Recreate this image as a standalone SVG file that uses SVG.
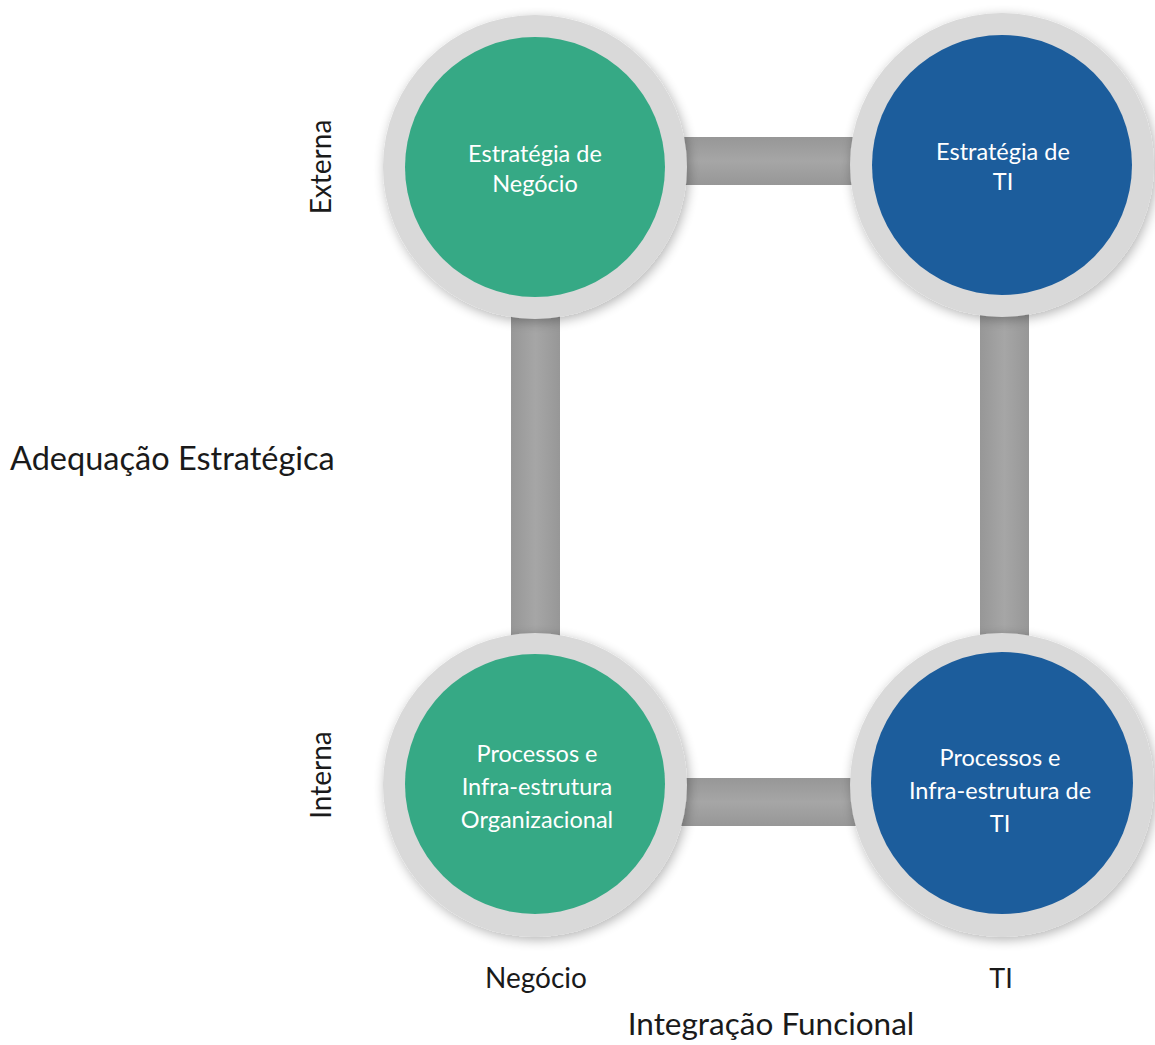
<svg xmlns="http://www.w3.org/2000/svg" width="1155" height="1045" viewBox="0 0 1155 1045">
<style>
.lbl{font-family:"Lato","Open Sans","Liberation Sans",sans-serif;fill:#1a1a1a}
.in{font-family:"Lato","Open Sans","Liberation Sans",sans-serif;fill:#fff;font-size:23.5px;text-anchor:middle}
.ring{fill:#d9d9d9;filter:url(#sh)}
.g{fill:#36a985}
.b{fill:#1c5d9c}
</style>
<defs>
<filter id="sh" x="-20%" y="-20%" width="140%" height="140%">
<feGaussianBlur in="SourceAlpha" stdDeviation="6"/>
<feOffset dx="2" dy="3"/>
<feComponentTransfer><feFuncA type="linear" slope="0.3"/></feComponentTransfer>
<feMerge><feMergeNode/><feMergeNode in="SourceGraphic"/></feMerge>
</filter>
<linearGradient id="hb" x1="0" y1="0" x2="0" y2="1">
<stop offset="0" stop-color="#979797"/><stop offset="0.5" stop-color="#a6a6a6"/><stop offset="1" stop-color="#979797"/>
</linearGradient>
<linearGradient id="vb" x1="0" y1="0" x2="1" y2="0">
<stop offset="0" stop-color="#979797"/><stop offset="0.5" stop-color="#a6a6a6"/><stop offset="1" stop-color="#979797"/>
</linearGradient>
</defs>
<rect width="1155" height="1045" fill="#fff"/>
<g id="connectors">
<rect x="670" y="137" width="200" height="48" fill="url(#hb)"/>
<rect x="511" y="300" width="49" height="360" fill="url(#vb)"/>
<rect x="980" y="300" width="49" height="360" fill="url(#vb)"/>
<rect x="670" y="778" width="200" height="48" fill="url(#hb)"/>
</g>
<g id="n1">
<circle class="ring" cx="535" cy="167" r="152"/>
<circle class="g" cx="535" cy="167" r="130"/>
<text class="in" x="535" y="162">Estratégia de</text>
<text class="in" x="535" y="192">Negócio</text>
</g>
<g id="n2">
<circle class="ring" cx="1002" cy="165" r="152"/>
<circle class="b" cx="1002" cy="165" r="130"/>
<text class="in" x="1003" y="160">Estratégia de</text>
<text class="in" x="1003" y="190">TI</text>
</g>
<g id="n3">
<circle class="ring" cx="535" cy="785" r="152"/>
<circle class="g" cx="535" cy="784" r="130"/>
<text class="in" x="537" y="762">Processos e</text>
<text class="in" x="537" y="795">Infra-estrutura</text>
<text class="in" x="537" y="828">Organizacional</text>
</g>
<g id="n4">
<circle class="ring" cx="1002" cy="785" r="152"/>
<circle class="b" cx="1002" cy="783" r="131"/>
<text class="in" x="1000" y="766">Processos e</text>
<text class="in" x="1000" y="799">Infra-estrutura de</text>
<text class="in" x="1000" y="832">TI</text>
</g>
<g id="labels">
<text class="lbl" font-size="28" text-anchor="middle" transform="translate(331,167) rotate(-90)">Externa</text>
<text class="lbl" font-size="28" text-anchor="middle" transform="translate(331,775) rotate(-90)">Interna</text>
<text class="lbl" font-size="32.5" x="10" y="470">Adequação Estratégica</text>
<text class="lbl" font-size="28" x="536" y="988" text-anchor="middle">Negócio</text>
<text class="lbl" font-size="27" x="1001" y="988" text-anchor="middle">TI</text>
<text class="lbl" font-size="31.5" x="771" y="1035" text-anchor="middle">Integração Funcional</text>
</g>
</svg>
